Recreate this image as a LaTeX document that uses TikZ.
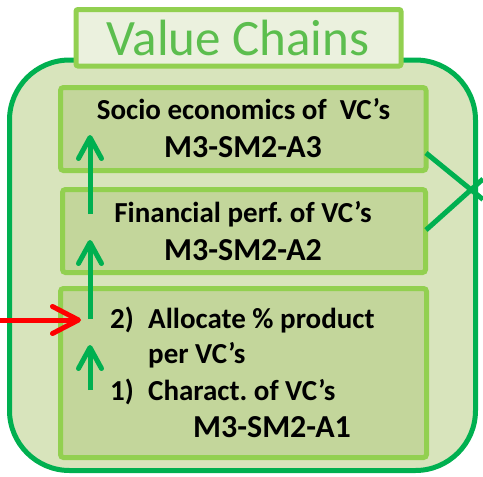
\documentclass[tikz,border=0pt]{standalone}
\usepackage{fontspec}
\setmainfont{Carlito}
\usetikzlibrary{arrows.meta}
\frenchspacing
\definecolor{outerfill}{RGB}{216,228,188}
\definecolor{outerline}{RGB}{0,176,80}
\definecolor{innerfill}{RGB}{195,214,155}
\definecolor{innerline}{RGB}{146,208,80}
\definecolor{titlefill}{RGB}{235,241,222}
\definecolor{titletext}{RGB}{92,190,78}
\definecolor{arrgreen}{RGB}{0,176,80}
\definecolor{arrred}{RGB}{255,0,0}
\tikzset{
  outerbox/.style={draw=outerline, fill=outerfill, line width=5pt, rounded corners=60pt, inner sep=0pt},
  innerbox/.style={draw=innerline, fill=innerfill, line width=5pt, rounded corners=3pt, inner sep=0pt},
  titlebox/.style={draw=innerline, fill=titlefill, line width=5pt, rounded corners=2pt, inner sep=0pt},
  txt/.style={inner sep=0pt, anchor=base, font=\fontsize{29}{29}\selectfont\bfseries},
  txtw/.style={inner sep=0pt, anchor=base west, font=\fontsize{29}{29}\selectfont\bfseries},
  codetxt/.style={inner sep=0pt, anchor=base, font=\fontsize{32}{32}\selectfont\bfseries},
  uparrow/.style={draw=arrgreen, line width=5pt, -{Straight Barb[length=21pt,width=23pt,round]}},
  redarrow/.style={draw=arrred, line width=5pt, -{Straight Barb[length=26pt,width=27pt,round]}},
  crossline/.style={draw=arrgreen, line width=5pt},
}
\begin{document}
\begin{tikzpicture}[x=1pt,y=-1pt]
\useasboundingbox (0,0) rectangle (483,477);
\node[outerbox, minimum width=466pt, minimum height=410.5pt] (outer) at (242.5,265.25) {};
\node[titlebox, minimum width=325pt, minimum height=56.5pt] (title) at (238.5,37.75) {};
\node[inner sep=0pt, anchor=base, text=titletext, font=\fontsize{51}{51}\selectfont] (titletxt) at (238,55) {Value Chains};
\node[innerbox, minimum width=365.5pt, minimum height=83pt] (a3) at (243.25,129) {};
\node[innerbox, minimum width=363pt, minimum height=83pt] (a2) at (244,231) {};
\node[innerbox, minimum width=366pt, minimum height=169pt] (a1) at (243.5,373) {};
% texts
\node[txt] (t3a) at (243.5,119) {Socio economics of\ \ VC’s};
\node[codetxt] (t3b) at (243,157) {M3-SM2-A3};
\node[txt] (t2a) at (243,222) {Financial perf. of VC’s};
\node[codetxt] (t2b) at (243,260) {M3-SM2-A2};
\node[txtw] (n2) at (110,328) {2)};
\node[txtw] (t1a) at (148,328) {Allocate \% product};
\node[txtw] (t1b) at (148,363) {per VC’s};
\node[txtw] (n1) at (110,400) {1)};
\node[txtw] (t1c) at (148,400) {Charact. of VC’s};
\node[codetxt] (t1d) at (272,437) {M3-SM2-A1};
% arrows
\coordinate (g1s) at (90,214);
\coordinate (g1e) at (90,135);
\coordinate (g2s) at (90,319);
\coordinate (g2e) at (90,240);
\coordinate (g3s) at (90,390);
\coordinate (g3e) at (90,345);
\coordinate (rs) at (0,320);
\coordinate (re) at (81,320);
\draw[uparrow] (g1s) -- (g1e);
\draw[uparrow] (g2s) -- (g2e);
\draw[uparrow] (g3s) -- (g3e);
\draw[redarrow] (rs) -- (re);
% crossing lines
\coordinate (c1s) at (426,153);
\coordinate (c1e) at (483,199.5);
\coordinate (c2s) at (426,230);
\coordinate (c2e) at (483,179);
\draw[crossline] (c1s) -- (c1e);
\draw[crossline] (c2s) -- (c2e);
\end{tikzpicture}
\end{document}
